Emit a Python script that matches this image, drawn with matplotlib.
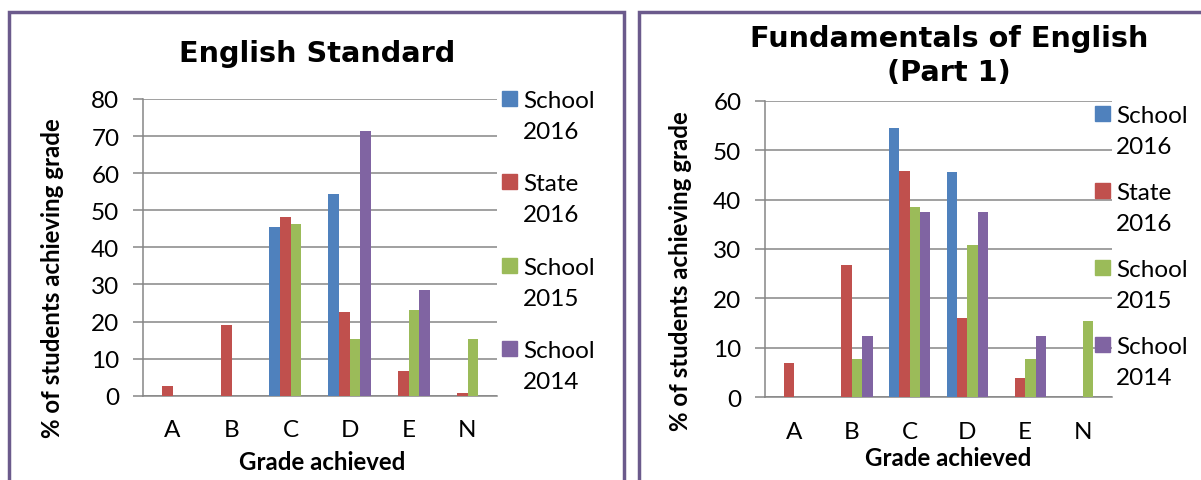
import numpy as np
import matplotlib
matplotlib.use('Agg')
import matplotlib.pyplot as plt
from matplotlib.patches import Rectangle

# Données
grades = ['A', 'B', 'C', 'D', 'E', 'N']
series_names = [('School', '2016'), ('State', '2016'), ('School', '2015'), ('School', '2014')]
colors = ['#4f81bd', '#c0504d', '#9bbb59', '#8064a2']

std_school_2016 = [0, 0, 45.5, 54.5, 0, 0]
std_state_2016 = [2.5, 19.1, 48.2, 22.7, 6.7, 0.8]
std_school_2015 = [0, 0, 46.2, 15.4, 23.1, 15.4]
std_school_2014 = [0, 0, 0, 71.4, 28.6, 0]

fun_school_2016 = [0, 0, 54.5, 45.5, 0, 0]
fun_state_2016 = [6.9, 26.8, 45.8, 16.0, 3.9, 0]
fun_school_2015 = [0, 7.7, 38.5, 30.8, 7.7, 15.4]
fun_school_2014 = [0, 12.5, 37.5, 37.5, 12.5, 0]

W, H = 1201, 481
fig = plt.figure(figsize=(W / 100, H / 100), dpi=100)

TICK_FONT = 'Lato'
GRID = '#868686'
BORDER = '#6b5a8c'
TXT_SIZE = 17.5


def px(x, y):
    """pixels -> fraction de figure"""
    return x / W, 1 - y / H


def draw_panel(rect, values, ymax, title_lines, legend_x, legend_y0, legend_step, ylab_pos, xlab_pos):
    ax = fig.add_axes(rect)
    x = np.arange(len(grades))
    width = 0.18
    for i, vals in enumerate(values):
        ax.bar(x + (i - 1.5) * width, vals, width, color=colors[i], zorder=3)
    ax.set_xlim(-0.5, len(grades) - 0.5)
    ax.set_ylim(0, ymax)
    ax.set_yticks(np.arange(0, ymax + 1, 10))
    ax.set_xticks(x)
    ax.set_xticklabels(grades)
    ax.yaxis.grid(True, color=GRID, linewidth=1.1, zorder=0)
    for s in ['top', 'right']:
        ax.spines[s].set_visible(False)
    for s in ['left', 'bottom']:
        ax.spines[s].set_color(GRID)
        ax.spines[s].set_linewidth(1.1)
    ax.tick_params(axis='y', length=7, width=1.1, color=GRID, pad=10,
                   labelsize=TXT_SIZE, labelfontfamily=TICK_FONT)
    ax.tick_params(axis='x', length=0, pad=17, labelsize=TXT_SIZE, labelfontfamily=TICK_FONT)

    # titre
    for txt, (tx, ty) in title_lines:
        fig.text(*px(tx, ty), txt, ha='center', va='baseline', fontsize=20.7,
                 fontweight='bold', family='DejaVu Sans')

    # étiquettes des axes
    fig.text(*px(*ylab_pos), '% of students achieving grade', rotation=90,
             ha='center', va='center', fontsize=17.3, fontweight='bold', family=TICK_FONT)
    fig.text(*px(*xlab_pos), 'Grade achieved', ha='center', va='baseline',
             fontsize=17.3, fontweight='bold', family=TICK_FONT)

    # légende
    for i, (l1, l2) in enumerate(series_names):
        base = legend_y0 + i * legend_step
        fig.patches.append(Rectangle(px(legend_x, base), 15 / W, 15 / H,
                                     transform=fig.transFigure, color=colors[i]))
        fig.text(*px(legend_x + 21, base + 1), l1, ha='left', va='baseline',
                 fontsize=TXT_SIZE, family=TICK_FONT)
        fig.text(*px(legend_x + 21, base + 32), l2, ha='left', va='baseline',
                 fontsize=TXT_SIZE, family=TICK_FONT)
    return ax


# cadres
fig.patches.append(Rectangle(px(8.5, 490), (623.5 - 8.5) / W, (490 - 12.5) / H,
                             transform=fig.transFigure, fill=False,
                             edgecolor=BORDER, linewidth=2.5))
fig.patches.append(Rectangle(px(638.5, 490), (1215 - 638.5) / W, (490 - 13) / H,
                             transform=fig.transFigure, fill=False,
                             edgecolor=BORDER, linewidth=2.5))

draw_panel([143 / W, 1 - 396.7 / H, 354 / W, 296.7 / H],
           [std_school_2016, std_state_2016, std_school_2015, std_school_2014],
           80, [('English Standard', (317, 62))],
           502, 92 + 15, 83.3, (53, 278), (322, 470))

draw_panel([765 / W, 1 - 398.3 / H, 347 / W, 296.6 / H],
           [fun_school_2016, fun_state_2016, fun_school_2015, fun_school_2014],
           60, [('Fundamentals of English', (949, 47)), ('(Part 1)', (949, 81))],
           1095, 107 + 15, 77, (681, 271), (948, 466))

fig.savefig('out.png', dpi=100)
